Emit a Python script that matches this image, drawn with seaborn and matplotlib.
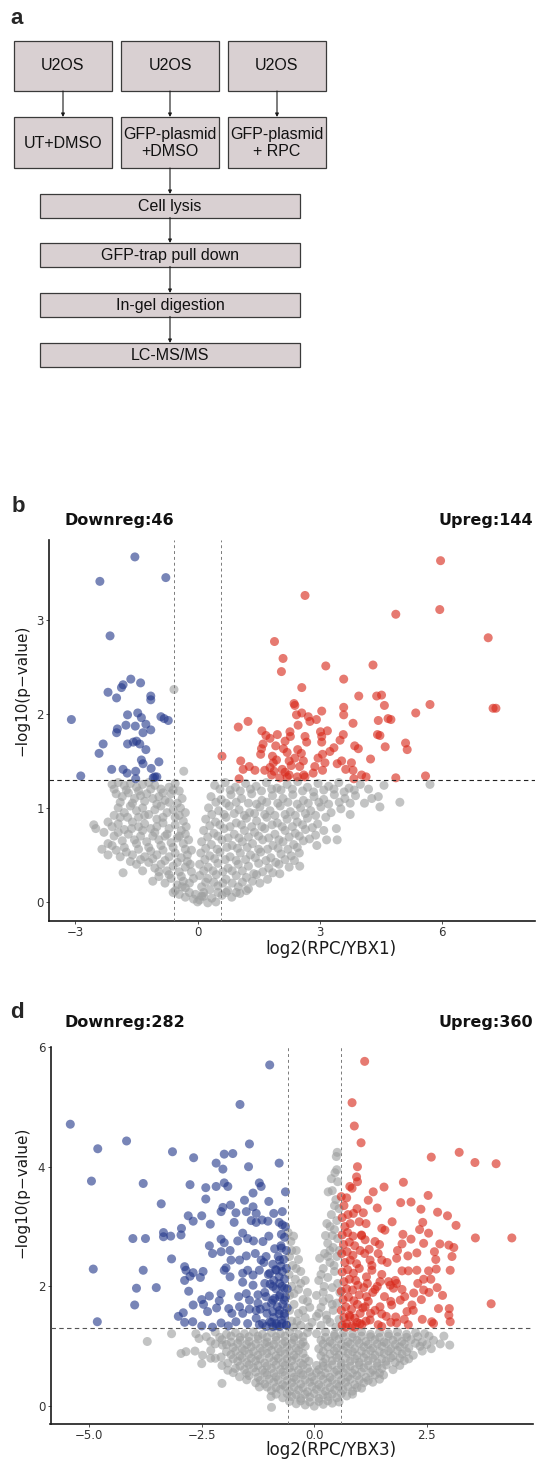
import numpy as np
import pandas as pd
import matplotlib
matplotlib.use("Agg")
import matplotlib.pyplot as plt
import seaborn as sns
from matplotlib.patches import Rectangle

# ---------------- data ----------------
flow_top_labels = ["U2OS", "U2OS", "U2OS"]
flow_mid_labels = ["UT+DMSO", "GFP-plasmid\n+DMSO", "GFP-plasmid\n+ RPC"]
flow_steps = ["Cell lysis", "GFP-trap pull down", "In-gel digestion", "LC-MS/MS"]

fc_cut = 0.585
p_cut = 1.301

b_title_down = "Downreg:46"
b_title_up = "Upreg:144"
d_title_down = "Downreg:282"
d_title_up = "Upreg:360"

b_xticks = [-3, 0, 3, 6]
b_yticks = [0, 1, 2, 3]
d_xticks = [-5.0, -2.5, 0.0, 2.5]
d_yticks = [0, 2, 4, 6]

b_down = [(-1.54,3.67),(-2.40,3.41),(-0.78,3.45),(-2.15,2.83),(-1.64,2.37),(-1.40,2.33),(-1.83,2.31),
          (-1.87,2.28),(-2.20,2.23),(-1.99,2.17),(-1.15,2.19),(-1.15,2.15),(-3.10,1.94),(-1.72,1.99),
          (-1.47,2.01),(-1.38,1.96),(-1.27,1.89),(-0.90,1.97),(-0.82,1.95),(-0.72,1.93),(-1.76,1.88),
          (-1.53,1.87),(-1.97,1.84),(-1.99,1.80),(-1.15,1.83),(-1.34,1.80),(-2.32,1.68),(-1.72,1.68),
          (-1.58,1.70),(-1.50,1.71),(-1.42,1.68),(-1.27,1.62),(-2.42,1.58),(-1.38,1.51),(-1.34,1.47),
          (-0.95,1.49),(-2.11,1.41),(-1.83,1.41),(-1.73,1.37),(-1.52,1.39),(-1.14,1.42),(-2.87,1.34),
          (-1.05,1.33),(-1.00,1.33),(-1.52,1.31),(-1.09,1.32)]

b_up = [(5.97,3.63),(2.64,3.26),(4.87,3.06),(5.95,3.11),(7.14,2.81),(1.89,2.77),(2.10,2.59),(2.06,2.45),
        (3.15,2.51),(4.31,2.52),(3.59,2.37),(2.56,2.28),(3.96,2.19),(4.40,2.19),(4.52,2.20),(4.59,2.09),
        (2.37,2.11),(2.39,2.09),(5.71,2.10),(7.26,2.06),(7.33,2.06),(5.36,2.01),(3.59,2.07),(3.59,1.99),
        (3.05,2.03),(2.56,2.01),(2.43,1.99),(2.72,1.97),(2.76,1.92),(2.92,1.94),(3.82,1.90),(4.44,1.93),
        (4.68,1.95),(4.75,1.94),(1.24,1.92),(1.00,1.86),(2.47,1.88),(1.58,1.82),(1.68,1.77),(1.78,1.74),
        (1.96,1.78),(2.27,1.81),(2.28,1.76),(2.15,1.71),(2.64,1.76),(2.68,1.70),(3.02,1.81),(3.19,1.82),
        (3.05,1.76),(3.05,1.70),(3.58,1.78),(3.50,1.72),(4.42,1.78),(4.48,1.77),(5.11,1.69),(5.15,1.62),
        (4.61,1.65),(3.86,1.66),(3.95,1.63),(3.35,1.64),(1.57,1.63),(1.55,1.57),(1.61,1.68),(1.92,1.66),
        (1.84,1.55),(1.94,1.51),(1.86,1.48),(2.20,1.59),(2.46,1.62),(2.39,1.53),(2.60,1.50),(2.55,1.58),
        (3.07,1.57),(3.13,1.48),(2.88,1.44),(3.07,1.40),(4.25,1.52),(3.78,1.48),(3.43,1.47),(3.54,1.50),
        (3.64,1.41),(3.82,1.40),(4.03,1.35),(4.14,1.33),(3.84,1.31),(4.87,1.32),(5.60,1.34),(1.06,1.50),
        (1.12,1.41),(1.27,1.44),(1.41,1.40),(1.02,1.31),(1.65,1.40),(1.78,1.43),(1.88,1.39),(2.08,1.41),
        (2.20,1.33),(2.25,1.35),(2.45,1.33),(2.61,1.35),(2.64,1.33),(2.84,1.37),(1.82,1.35),(2.02,1.32),
        (0.60,1.55),(2.25,1.50),(2.51,1.44),(2.96,1.53),(2.11,1.63),(3.25,1.60),(2.30,1.45),(2.15,1.38)]

b_ns = [(-0.58,2.26),(-0.34,1.39),
        (-2.10,1.25),(-1.95,1.27),(-1.80,1.24),(-1.65,1.26),(-1.50,1.22),(-1.35,1.25),(-1.20,1.27),
        (-1.05,1.24),(-0.90,1.20),(-0.70,1.22),(-0.55,1.26),(-0.45,1.18),(-2.00,1.15),(-1.85,1.12),
        (-1.70,1.16),(-1.55,1.10),(-1.40,1.13),(-1.25,1.15),(-1.10,1.10),(-0.95,1.12),(-0.80,1.08),
        (-0.65,1.15),(-0.50,1.05),(-0.38,1.10),
        (-1.95,1.00),(-1.80,0.95),(-1.65,1.02),(-1.50,0.97),(-1.35,1.00),(-1.20,0.93),(-1.05,0.98),
        (-0.90,1.02),(-0.75,0.95),(-0.60,0.98),(-0.45,0.92),(-0.30,0.95),(-1.90,0.90),(-1.45,0.90),
        (-1.00,0.88),
        (-2.55,0.82),(-2.50,0.78),(-2.20,0.85),(-2.10,0.80),(-1.95,0.83),(-1.80,0.77),(-1.60,0.85),
        (-1.45,0.80),(-1.30,0.83),(-1.15,0.78),(-1.00,0.80),(-0.85,0.84),(-0.70,0.78),(-0.55,0.82),
        (-0.40,0.76),(-0.28,0.80),
        (-2.20,0.62),(-2.05,0.70),(-1.85,0.65),(-1.70,0.72),(-1.55,0.66),(-1.40,0.70),(-1.25,0.64),
        (-1.10,0.70),(-0.95,0.66),(-0.80,0.70),(-0.65,0.63),(-0.50,0.68),(-0.35,0.62),(-0.22,0.66),
        (-2.35,0.56),(-2.20,0.50),(-2.00,0.55),(-1.90,0.48),(-1.75,0.53),(-1.60,0.50),(-1.45,0.56),
        (-1.30,0.48),(-1.15,0.54),(-1.00,0.50),(-0.85,0.55),(-0.70,0.48),(-0.55,0.52),(-0.40,0.47),
        (-0.25,0.50),(-0.15,0.55),
        (-1.83,0.31),(-1.50,0.40),(-1.35,0.33),(-1.20,0.42),(-1.05,0.36),(-0.90,0.40),(-0.75,0.33),
        (-0.60,0.38),(-0.45,0.32),(-0.30,0.37),(-0.18,0.40),
        (-1.10,0.22),(-0.95,0.27),(-0.80,0.20),(-0.65,0.25),(-0.50,0.18),(-0.35,0.22),(-0.20,0.20),
        (-0.10,0.25),(-0.30,0.15),
        (-0.60,0.10),(-0.45,0.08),(-0.30,0.05),(-0.20,0.10),(-0.10,0.03),(0.00,0.00),(0.05,0.02),
        (-0.05,0.08),(0.10,0.06),(0.15,0.10),
        (0.42,1.24),(0.68,1.27),(0.93,1.22),(1.18,1.26),(1.44,1.23),(1.69,1.27),(1.95,1.21),(2.20,1.25),
        (2.46,1.28),(2.70,1.22),(2.96,1.26),(3.22,1.23),(3.47,1.27),(3.72,1.21),(4.00,1.25),(4.58,1.24),
        (5.71,1.25),(1.05,1.18),(2.05,1.19),(2.85,1.17),
        (0.33,1.12),(0.58,1.09),(0.82,1.14),(1.08,1.10),(1.33,1.15),(1.58,1.08),(1.84,1.13),(2.10,1.10),
        (2.34,1.14),(2.60,1.08),(2.86,1.12),(3.10,1.09),(3.36,1.14),(3.62,1.10),(3.88,1.13),(4.28,1.10),
        (4.44,1.12),(4.97,1.06),(1.25,1.05),(2.45,1.04),
        (0.27,1.00),(0.52,0.97),(0.78,1.02),(1.02,0.98),(1.28,0.95),(1.53,1.01),(1.78,0.97),(2.03,1.02),
        (2.28,0.96),(2.53,1.00),(2.78,0.97),(3.03,1.01),(3.28,0.95),(3.52,0.99),(3.75,0.93),(4.48,1.01),
        (0.65,0.93),(1.90,0.92),
        (0.20,0.88),(0.44,0.85),(0.70,0.90),(0.95,0.84),(1.20,0.89),(1.45,0.86),(1.70,0.90),(1.96,0.84),
        (2.20,0.88),(2.45,0.85),(2.70,0.89),(2.95,0.83),(3.41,0.78),(1.58,0.80),(2.33,0.80),
        (0.15,0.76),(0.40,0.73),(0.65,0.78),(0.90,0.72),(1.15,0.76),(1.40,0.74),(1.65,0.78),(1.90,0.72),
        (2.15,0.76),(2.40,0.73),(2.65,0.77),(2.90,0.71),(1.02,0.68),(2.00,0.66),
        (0.10,0.64),(0.34,0.61),(0.60,0.66),(0.85,0.60),(1.10,0.64),(1.35,0.62),(1.60,0.66),(1.85,0.60),
        (2.10,0.64),(2.36,0.61),(2.60,0.65),(2.93,0.60),(3.17,0.66),(3.43,0.66),(0.48,0.56),(1.50,0.56),
        (0.08,0.52),(0.30,0.49),(0.55,0.53),(0.80,0.48),(1.05,0.52),(1.30,0.50),(1.55,0.53),(1.80,0.47),
        (2.05,0.51),(2.30,0.49),(2.50,0.52),(0.95,0.44),(1.92,0.42),
        (0.05,0.40),(0.26,0.37),(0.50,0.41),(0.75,0.36),(1.00,0.40),(1.25,0.38),(1.50,0.41),(1.75,0.36),
        (2.00,0.40),(2.25,0.37),(2.51,0.38),(0.62,0.32),(1.38,0.30),
        (0.05,0.28),(0.25,0.25),(0.46,0.29),(0.70,0.24),(0.95,0.28),(1.20,0.26),(1.45,0.29),(1.72,0.24),
        (2.02,0.30),(0.85,0.20),
        (0.10,0.16),(0.30,0.13),(0.50,0.17),(0.74,0.12),(1.00,0.16),(1.25,0.14),(1.53,0.20),
        (0.15,0.06),(0.35,0.04),(0.60,0.07),(0.84,0.05),(1.04,0.09),(0.25,-0.01),(0.45,0.00)]

b_ns_dense = [(-2.05,1.20),(-1.75,1.19),(-1.45,1.18),(-1.15,1.20),(-0.85,1.16),(-0.60,1.19),(-1.90,1.06),
              (-1.60,1.05),(-1.30,1.07),(-1.00,1.04),(-0.70,1.06),(-0.42,1.00),(-2.05,0.92),(-1.72,0.90),
              (-1.30,0.92),(-0.85,0.90),(-0.55,0.90),(-0.35,0.86),(-2.30,0.74),(-1.95,0.74),(-1.62,0.78),
              (-1.35,0.76),(-1.05,0.74),(-0.75,0.72),(-0.45,0.70),(-0.30,0.72),(-2.10,0.60),(-1.80,0.58),
              (-1.50,0.62),(-1.20,0.58),(-0.90,0.60),(-0.60,0.58),(-0.30,0.56),(-1.65,0.43),(-1.40,0.45),
              (-1.10,0.46),(-0.80,0.44),(-0.50,0.42),(-0.25,0.43),(-0.95,0.32),(-0.70,0.29),(-0.40,0.27),
              (-0.15,0.32),(-0.55,0.12),(-0.38,0.16),
              (0.55,1.20),(0.80,1.19),(1.30,1.20),(1.57,1.18),(1.82,1.20),(2.33,1.20),(2.58,1.18),(3.10,1.19),
              (3.35,1.20),(3.60,1.17),(3.85,1.19),(4.20,1.20),(0.45,1.06),(0.70,1.05),(0.95,1.06),(1.45,1.04),
              (1.70,1.06),(1.97,1.05),(2.22,1.06),(2.72,1.05),(2.98,1.06),(3.22,1.04),(3.48,1.06),(3.75,1.05),
              (4.10,1.05),(0.35,0.93),(0.90,0.94),(1.15,0.92),(1.40,0.94),(1.65,0.93),(2.15,0.93),(2.40,0.92),
              (2.65,0.94),(2.90,0.92),(3.15,0.90),(0.30,0.81),(0.55,0.82),(0.80,0.80),(1.08,0.82),(1.33,0.80),
              (1.83,0.82),(2.08,0.80),(2.58,0.82),(2.82,0.79),(3.10,0.76),(0.25,0.69),(0.50,0.70),(0.75,0.68),
              (1.25,0.69),(1.50,0.70),(1.75,0.68),(2.25,0.69),(2.50,0.70),(2.75,0.67),(0.20,0.57),(0.72,0.58),
              (0.98,0.57),(1.22,0.58),(1.72,0.56),(1.98,0.57),(2.22,0.56),(2.45,0.58),(0.18,0.45),(0.42,0.46),
              (0.68,0.45),(1.18,0.45),(1.42,0.47),(1.68,0.44),(2.15,0.45),(2.38,0.44),(0.15,0.33),(0.38,0.33),
              (0.85,0.33),(1.10,0.33),(1.60,0.32),(1.85,0.31),(0.20,0.21),(0.40,0.21),(0.62,0.20),(1.10,0.21),
              (1.35,0.22),(0.50,0.10),(0.70,0.10),(0.95,0.10),(1.20,0.12)]

d_down = [(-0.99,5.70),(-1.65,5.04),(-5.42,4.71),(-4.17,4.43),(-4.81,4.30),(-1.44,4.38),(-3.15,4.25),
          (-2.68,4.15),(-2.00,4.21),(-1.81,4.22),(-2.18,4.06),(-2.03,3.96),(-1.46,4.00),(-0.78,4.06),
          (-4.95,3.76),(-3.80,3.72),(-2.76,3.70),(-2.41,3.65),(-2.18,3.67),(-2.00,3.73),(-1.92,3.67),
          (-1.22,3.73),(-1.18,3.67),(-1.36,3.56),(-0.64,3.58),(-2.41,3.46),(-1.55,3.44),(-1.01,3.42),
          (-3.40,3.38),(-1.86,3.36),(-2.03,3.32),(-2.07,3.25),(-1.74,3.23),(-1.51,3.25),(-1.36,3.33),
          (-1.29,3.22),(-0.90,3.22),(-0.71,3.25),(-2.80,3.18),(-2.69,3.09),(-2.50,3.18),(-2.31,3.04),
          (-1.78,3.07),(-1.40,3.10),(-1.29,3.07),(-1.16,3.11),(-1.03,3.09),(-0.78,3.07),(-0.71,3.03),
          (-2.95,2.97),(-2.96,2.86),(-3.35,2.90),(-3.35,2.83),(-3.19,2.84),(-4.03,2.80),(-3.75,2.80),
          (-2.33,2.68),(-2.07,2.79),(-2.00,2.73),(-1.87,2.60),(-2.26,2.55),(-2.07,2.58),(-1.70,2.76),
          (-1.59,2.89),(-1.48,2.80),(-1.35,2.76),(-1.14,2.75),(-1.01,2.84),(-0.88,2.63),(-0.73,2.87),
          (-0.73,2.64),(-3.17,2.46),(-1.85,2.44),(-1.66,2.44),(-1.51,2.51),(-1.31,2.55),(-1.18,2.44),
          (-1.07,2.50),(-0.92,2.37),(-0.77,2.44),(-4.91,2.29),(-3.80,2.27),(-2.88,2.33),(-2.85,2.27),
          (-2.69,2.23),(-2.47,2.25),(-2.76,2.17),(-2.53,2.15),(-2.88,2.10),(-2.00,2.27),(-1.87,2.16),
          (-1.96,2.31),(-1.59,2.22),(-1.48,2.27),(-1.36,2.19),(-1.22,2.27),(-0.99,2.22),(-0.84,2.27),
          (-0.71,2.25),(-3.95,1.97),(-3.51,1.98),(-2.79,1.92),(-1.59,2.07),(-1.36,2.02),(-1.10,2.05),
          (-0.92,2.00),(-0.77,2.05),(-0.66,1.97),(-3.99,1.69),(-2.50,1.78),(-2.33,1.84),(-2.46,1.70),
          (-2.69,1.69),(-2.37,1.58),(-2.07,1.88),(-2.11,1.76),(-2.17,1.64),(-1.68,1.83),(-1.51,1.88),
          (-1.44,1.77),(-1.25,1.86),(-1.25,1.72),(-1.07,1.83),(-0.92,1.77),(-0.77,1.83),(-0.66,1.77),
          (-1.90,1.63),(-1.83,1.55),(-1.66,1.66),(-1.59,1.55),(-1.44,1.62),(-1.29,1.60),(-1.07,1.66),
          (-0.92,1.58),(-0.77,1.60),(-0.66,1.55),(-4.82,1.41),(-3.02,1.50),(-2.91,1.56),(-2.88,1.40),
          (-2.70,1.41),(-2.50,1.34),(-2.26,1.32),(-2.07,1.39),(-1.91,1.34),(-1.74,1.41),(-1.48,1.38),
          (-1.29,1.47),(-1.22,1.36),(-0.99,1.41),(-0.84,1.38),(-0.73,1.44),(-0.62,1.36),(-1.07,1.33),
          (-0.92,1.33),(-0.77,1.33),
          (-0.62,1.35),(-0.72,1.38),(-0.84,1.34),(-0.95,1.40),(-0.66,1.50),(-0.78,1.54),(-0.90,1.48),
          (-0.60,1.64),(-0.70,1.70),(-0.82,1.66),(-0.95,1.72),(-0.64,1.82),(-0.76,1.86),(-0.88,1.80),
          (-0.60,1.96),(-0.72,2.00),(-0.85,1.96),(-0.98,2.04),(-0.66,2.12),(-0.78,2.16),(-0.90,2.10),
          (-0.62,2.30),(-0.74,2.34),(-0.86,2.28),(-0.68,2.45),(-0.80,2.50),(-0.62,2.60),(-0.74,2.68),
          (-0.66,2.82),(-0.64,3.00),(-1.05,1.55),(-1.10,1.90),(-1.02,2.20),(-1.15,1.38),(-1.20,1.62),
          (-1.12,2.40)]

d_up = [(1.12,5.76),(0.84,5.07),(0.89,4.68),(1.04,4.40),(2.60,4.16),(3.22,4.24),(3.57,4.07),(4.04,4.05),
        (0.96,4.00),(0.94,3.83),(0.96,3.75),(1.98,3.74),(1.55,3.66),(0.79,3.67),(0.84,3.64),(1.31,3.58),
        (1.20,3.44),(2.53,3.52),(1.92,3.40),(2.15,3.41),(2.37,3.29),(2.74,3.24),(2.96,3.18),(1.40,3.31),
        (1.09,3.23),(1.73,3.08),(2.41,3.07),(3.15,3.02),(3.58,2.81),(4.39,2.81),(1.50,2.97),(1.57,2.94),
        (1.97,2.87),(2.15,2.79),(2.54,2.89),(2.34,2.95),(1.35,2.75),(1.95,2.71),(2.43,2.72),(2.79,2.71),
        (2.99,2.69),(3.10,2.65),(2.67,2.58),(2.28,2.56),(2.08,2.51),(1.83,2.47),(1.42,2.55),(1.50,2.44),
        (1.24,2.44),(3.06,2.50),(2.71,2.29),(2.54,2.26),(2.28,2.27),(2.09,2.26),(1.95,2.26),(3.02,2.27),
        (2.43,2.12),(2.59,2.12),(2.73,1.98),(2.43,1.94),(2.21,1.89),(2.01,1.83),(2.38,1.78),(2.17,1.69),
        (1.83,2.05),(1.65,2.08),(1.69,2.02),(1.76,1.97),(1.46,2.08),(1.35,1.95),(1.56,1.83),(1.72,1.69),
        (1.91,1.77),(2.06,1.58),(1.81,1.49),(1.83,1.39),(2.09,1.36),(2.61,1.41),(2.65,1.38),(2.76,1.63),
        (3.00,1.63),(2.99,1.52),(3.02,1.41),(3.93,1.71),(1.46,1.66),(1.50,1.54),(1.24,1.44),(1.42,1.36),
        (1.13,2.78),(1.05,2.86),(0.87,3.22),(1.00,3.08),(1.16,2.16),(1.28,2.27),(1.16,1.83),(1.13,1.66),
        (1.02,1.38),(0.79,1.49),
        (0.62,1.35),(0.72,1.38),(0.84,1.34),(0.95,1.40),(1.06,1.36),(0.66,1.48),(0.78,1.52),(0.90,1.47),
        (1.02,1.55),(0.60,1.60),(0.70,1.66),(0.83,1.62),(0.96,1.70),(1.08,1.64),(0.64,1.78),(0.76,1.82),
        (0.88,1.76),(1.00,1.86),(0.60,1.92),(0.72,1.96),(0.85,1.94),(0.97,2.02),(1.10,1.98),(0.66,2.08),
        (0.78,2.12),(0.92,2.10),(0.62,2.24),(0.74,2.28),(0.87,2.22),(1.00,2.30),(0.68,2.40),(0.80,2.44),
        (0.94,2.38),(0.61,2.55),(0.73,2.58),(0.86,2.52),(1.02,2.60),(0.65,2.70),(0.78,2.74),(0.90,2.68),
        (0.62,2.86),(0.74,2.90),(0.86,2.84),(0.68,3.00),(0.80,3.05),(0.62,3.15),(0.75,3.20),(0.66,3.35),
        (0.60,3.50),(0.72,3.48),(1.15,1.42),(1.25,1.55),(1.20,1.75),(1.30,1.90),(1.18,2.05),(1.28,2.35),
        (1.12,2.55),(1.22,2.62),(1.35,1.60),(1.40,2.00),(1.50,2.20),(1.60,1.50),(1.70,1.75),(1.62,2.40),
        (1.80,2.10),(1.95,1.95),(2.00,1.45),(2.20,1.60),(2.30,2.05),(1.85,2.60),(1.05,2.85),(1.15,3.05),
        (0.95,3.30),(1.45,2.70),(1.70,1.40),(0.70,1.32),(0.90,1.32),(1.50,1.33),(2.40,1.45),(2.55,1.90),
        (2.85,1.85),(2.70,2.45)]

d_ns = [(0.51,4.24),(0.49,4.17),(0.46,3.90),(0.52,3.75),(0.40,3.60),(0.31,3.58),(0.48,3.45),(0.38,3.20),
        (0.50,3.10),(0.35,3.00),(0.45,2.95),(0.25,2.85),(0.52,2.80),(0.30,2.72),(0.42,2.65),(0.23,2.55),
        (0.50,2.50),(0.12,2.47),(0.35,2.40),(0.20,2.30),(0.45,2.25),(0.30,2.15),(0.10,2.10),(0.52,2.05),
        (0.40,1.98),(0.20,1.90),(0.05,1.85),(0.33,1.80),(0.50,1.72),(0.15,1.65),(0.42,1.60),(0.27,1.52),
        (0.05,1.50),(0.55,1.45),(0.35,1.40),(0.15,1.35),(0.48,1.32),(0.55,3.30),(0.56,2.60),(0.57,1.90),
        (-0.46,2.84),(-0.52,2.75),(-0.40,2.60),(-0.55,2.50),(-0.35,2.45),(-0.48,2.35),(-0.30,2.25),
        (-0.56,2.20),(-0.42,2.12),(-0.20,2.10),(-0.50,2.00),(-0.35,1.95),(-0.15,1.90),(-0.55,1.85),
        (-0.25,1.78),(-0.45,1.70),(-0.10,1.65),(-0.55,1.60),(-0.35,1.55),(-0.20,1.48),(-0.50,1.42),
        (-0.05,1.40),(-0.30,1.35),(-0.45,1.32),(-0.12,1.32),
        (-3.17,1.21),(-2.63,1.21),(-2.20,1.24),(-1.95,1.20),(-1.75,1.23),(-1.55,1.21),(-1.35,1.24),
        (-1.15,1.20),(-0.95,1.23),(-0.75,1.21),(-0.55,1.24),(-0.35,1.20),(-0.15,1.23),(0.05,1.21),
        (0.25,1.24),(0.45,1.20),(0.65,1.23),(0.85,1.21),(1.05,1.24),(1.25,1.20),(1.45,1.23),(1.65,1.21),
        (1.85,1.24),(2.05,1.20),(2.25,1.23),(2.45,1.21),(2.88,1.17),
        (-3.71,1.08),(-2.56,1.13),(-2.30,1.08),(-2.05,1.11),(-1.85,1.07),(-1.65,1.10),(-1.45,1.08),
        (-1.25,1.12),(-1.05,1.07),(-0.85,1.10),(-0.65,1.08),(-0.45,1.11),(-0.25,1.07),(0.15,1.10),
        (0.35,1.08),(0.55,1.12),(0.75,1.07),(0.95,1.10),(1.15,1.08),(1.35,1.11),(1.55,1.07),(1.75,1.10),
        (1.95,1.08),(2.15,1.11),(2.40,1.07),(2.65,1.10),(3.01,1.02),
        (-2.04,1.02),(-1.80,0.98),(-1.60,0.96),(-1.40,0.99),(-1.20,0.97),(-1.00,1.00),(-0.80,0.96),
        (-0.60,0.99),(-0.40,0.97),(-0.20,1.00),(0.10,0.96),(0.30,0.99),(0.50,0.97),(0.70,1.00),
        (0.90,0.96),(1.10,0.99),(1.30,0.97),(1.50,1.00),(1.70,0.96),(1.90,0.99),(2.10,0.97),(2.35,1.00),
        (2.60,0.96),
        (-2.96,0.88),(-2.85,0.91),(-2.48,0.85),(-2.07,0.82),(-1.85,0.86),(-1.65,0.84),(-1.45,0.87),
        (-1.25,0.85),(-1.05,0.88),(-0.85,0.84),(-0.65,0.87),(-0.45,0.85),(-0.25,0.88),(0.15,0.84),
        (0.35,0.87),(0.55,0.85),(0.75,0.88),(0.95,0.84),(1.15,0.87),(1.35,0.85),(1.55,0.88),(1.75,0.84),
        (1.95,0.87),(2.20,0.85),
        (-2.50,0.71),(-2.30,0.80),(-1.92,0.72),(-1.70,0.75),(-1.50,0.73),(-1.30,0.76),(-1.10,0.72),
        (-0.90,0.75),(-0.70,0.73),(-0.50,0.76),(-0.30,0.72),(-0.12,0.75),(0.20,0.73),(0.40,0.76),
        (0.60,0.72),(0.80,0.75),(1.00,0.73),(1.20,0.76),(1.40,0.72),(1.60,0.75),(1.80,0.73),(2.00,0.76),
        (-1.92,0.60),(-1.75,0.63),(-1.55,0.61),(-1.35,0.64),(-1.15,0.60),(-0.95,0.63),(-0.75,0.61),
        (-0.55,0.64),(-0.35,0.60),(-0.15,0.63),(0.10,0.61),(0.30,0.64),(0.50,0.60),(0.70,0.63),
        (0.90,0.61),(1.10,0.64),(1.30,0.60),(1.50,0.63),(1.75,0.61),
        (-1.66,0.49),(-1.45,0.51),(-1.25,0.48),(-1.05,0.52),(-0.85,0.49),(-0.65,0.51),(-0.45,0.48),
        (-0.25,0.52),(-0.05,0.49),(0.15,0.51),(0.35,0.48),(0.55,0.52),(0.75,0.49),(0.95,0.51),
        (1.15,0.48),(1.35,0.52),(1.54,0.52),
        (-2.05,0.38),(-1.30,0.39),(-1.10,0.37),(-0.90,0.40),(-0.70,0.36),(-0.50,0.39),(-0.30,0.37),
        (-0.10,0.40),(0.10,0.36),(0.30,0.39),(0.50,0.37),(0.70,0.40),(0.90,0.36),(1.10,0.39),(1.30,0.40),
        (-1.22,0.32),(-0.95,0.26),(-0.75,0.28),(-0.55,0.25),(-0.35,0.27),(-0.15,0.24),(0.05,0.28),
        (0.25,0.25),(0.45,0.27),(0.64,0.27),(0.85,0.25),(1.05,0.30),
        (-0.96,0.16),(-0.70,0.14),(-0.50,0.16),(-0.30,0.13),(-0.10,0.15),(0.10,0.13),(0.30,0.16),
        (0.50,0.14),(0.72,0.17),
        (-0.40,0.04),(-0.20,0.02),(0.00,0.00),(0.20,0.03),(0.40,0.05),(-0.95,-0.02)]

d_ns_dense = [(-2.40,1.16),(-2.10,1.15),(-1.85,1.17),(-1.65,1.15),(-1.45,1.16),(-1.25,1.17),(-1.05,1.15),
              (-0.85,1.16),(-0.65,1.17),(-0.45,1.15),(-0.25,1.16),(0.25,1.15),(0.45,1.17),(0.65,1.16),
              (0.85,1.15),(1.05,1.17),(1.25,1.16),(1.45,1.15),(1.65,1.17),(1.85,1.16),(2.05,1.15),(2.30,1.16),
              (2.55,1.17),
              (-2.20,1.04),(-1.95,1.03),(-1.70,1.05),(-1.50,1.03),(-1.30,1.04),(-1.10,1.05),(-0.90,1.03),
              (-0.70,1.04),(-0.50,1.05),(-0.30,1.03),(0.20,1.04),(0.40,1.05),(0.60,1.03),(0.80,1.04),
              (1.00,1.05),(1.20,1.03),(1.40,1.04),(1.60,1.05),(1.80,1.03),(2.00,1.04),(2.25,1.05),(2.50,1.03),
              (2.80,1.04),
              (-2.65,0.92),(-2.30,0.93),(-1.95,0.91),(-1.75,0.92),(-1.55,0.93),(-1.35,0.91),(-1.15,0.92),
              (-0.95,0.93),(-0.75,0.91),(-0.55,0.92),(-0.35,0.93),(0.20,0.91),(0.45,0.92),(0.65,0.93),
              (0.85,0.91),(1.05,0.92),(1.25,0.93),(1.45,0.91),(1.65,0.92),(1.85,0.93),(2.05,0.91),(2.40,0.92),
              (-2.20,0.80),(-1.80,0.79),(-1.60,0.81),(-1.40,0.80),(-1.20,0.79),(-1.00,0.81),(-0.80,0.80),
              (-0.60,0.79),(-0.40,0.81),(-0.20,0.80),(0.25,0.79),(0.50,0.81),(0.70,0.80),(0.90,0.79),
              (1.10,0.81),(1.30,0.80),(1.50,0.79),(1.70,0.81),(1.90,0.80),(2.10,0.79),
              (-2.05,0.68),(-1.65,0.67),(-1.45,0.69),(-1.25,0.68),(-1.05,0.67),(-0.85,0.69),(-0.65,0.68),
              (-0.45,0.67),(-0.25,0.69),(0.05,0.68),(0.20,0.67),(0.40,0.69),(0.60,0.68),(0.80,0.67),
              (1.00,0.69),(1.20,0.68),(1.40,0.67),(1.60,0.69),(1.90,0.68),
              (-1.80,0.56),(-1.50,0.55),(-1.30,0.57),(-1.10,0.56),(-0.90,0.55),(-0.70,0.57),(-0.50,0.56),
              (-0.30,0.55),(-0.10,0.57),(0.05,0.56),(0.25,0.55),(0.45,0.57),(0.65,0.56),(0.85,0.55),
              (1.05,0.57),(1.25,0.56),(1.45,0.55),
              (-1.50,0.44),(-1.20,0.43),(-1.00,0.45),(-0.80,0.44),(-0.60,0.43),(-0.40,0.45),(-0.20,0.44),
              (0.00,0.43),(0.20,0.45),(0.40,0.44),(0.60,0.43),(0.80,0.45),(1.00,0.44),(1.20,0.43),(1.45,0.45),
              (-1.05,0.32),(-0.85,0.31),(-0.65,0.33),(-0.45,0.32),(-0.25,0.31),(-0.05,0.33),(0.15,0.32),
              (0.35,0.31),(0.55,0.33),(0.75,0.32),(0.95,0.31),
              (-0.85,0.20),(-0.60,0.21),(-0.40,0.19),(-0.20,0.20),(0.00,0.21),(0.20,0.19),(0.40,0.20),
              (0.60,0.21),(0.85,0.20),
              (-0.55,0.08),(-0.30,0.09),(-0.10,0.07),(0.10,0.08),(0.30,0.09),(0.55,0.07),
              (0.28,1.45),(0.40,1.70),(0.22,2.00),(0.44,2.35),(0.35,2.60),(0.40,2.85),(0.28,3.05),(0.45,3.35),
              (0.38,3.80),(0.50,3.95),(0.10,1.55),(0.20,1.75),(0.30,2.50),(0.15,2.20),(-0.38,1.42),
              (-0.25,1.60),(-0.45,1.88),(-0.30,2.05),(-0.40,2.30),(-0.50,2.60),(-0.15,1.75),(-0.58,2.90)]

# ---------------- helpers ----------------
def make_df(ns, down, up):
    rows = [(x, y, "NS") for x, y in ns] + [(x, y, "Down") for x, y in down] + [(x, y, "Up") for x, y in up]
    return pd.DataFrame(rows, columns=["log2fc", "nlogp", "group"])

palette = {"NS": "#9d9f9f", "Down": "#263a8c", "Up": "#d8281a"}

sns.set_theme(style="white")
plt.rcParams['font.family'] = ['DejaVu Sans']

W, H = 536, 1467
fig = plt.figure(figsize=(W / 100, H / 100), dpi=100)

# ---------------- panel a: flowchart ----------------
ax_a = fig.add_axes([0, 1 - 400 / H, 1, 400 / H])
ax_a.set_xlim(0, W)
ax_a.set_ylim(400, 0)
ax_a.axis("off")

box_fc = "#d9d0d2"
box_ec = "#3a3a3a"
col_x = [14, 121, 228]
bw = 98
flow_font = dict(family=["Liberation Sans", "DejaVu Sans"], fontsize=11.5, color="#111111")


def arrow(ax, x, y0, y1):
    ax.annotate("", xy=(x, y1), xytext=(x, y0),
                arrowprops=dict(arrowstyle="-|>", color="#1a1a1a", lw=0.8,
                                mutation_scale=5, shrinkA=0, shrinkB=0))


for i, x0 in enumerate(col_x):
    ax_a.add_patch(Rectangle((x0, 41), bw, 50, facecolor=box_fc, edgecolor=box_ec, lw=0.9))
    ax_a.text(x0 + bw / 2, 66, flow_top_labels[i], ha="center", va="center", **flow_font)
    ax_a.add_patch(Rectangle((x0, 117), bw, 51, facecolor=box_fc, edgecolor=box_ec, lw=0.9))
    ax_a.text(x0 + bw / 2, 143, flow_mid_labels[i], ha="center", va="center",
              linespacing=1.25, **flow_font)
    arrow(ax_a, x0 + bw / 2, 91, 117)

step_y = [194, 243, 293, 343]
prev_bottom = 168
for label, y0 in zip(flow_steps, step_y):
    arrow(ax_a, 170, prev_bottom, y0)
    ax_a.add_patch(Rectangle((40, y0), 260, 23.5, facecolor=box_fc, edgecolor=box_ec, lw=0.9))
    ax_a.text(170, y0 + 12, label, ha="center", va="center", **flow_font)
    prev_bottom = y0 + 23.5

letter_font = dict(family=["Liberation Sans", "DejaVu Sans"], fontsize=16, fontweight="bold")
fig.text(10 / W, 1 - 24 / H, "a", ha="left", va="baseline", **letter_font)
fig.text(12 / W, 1 - 511.5 / H, "b", ha="left", va="baseline", **letter_font)
fig.text(10 / W, 1 - 1018 / H, "d", ha="left", va="baseline", **letter_font)


# ---------------- volcano panels ----------------
def volcano(rect, df, xlim, ylim, xticks, xticklabels, yticks, xlabel, xl_coords, yl_coords, hcolor):
    ax = fig.add_axes(rect)
    sns.scatterplot(data=df, x="log2fc", y="nlogp", hue="group", palette=palette,
                    s=42, alpha=0.62, linewidth=0, edgecolor="none", legend=False, ax=ax, zorder=2)
    ax.axhline(p_cut, color=hcolor, lw=0.8, ls=(0, (4, 3)), zorder=3)
    ax.axvline(-fc_cut, color="#7a7a7a", lw=0.7, ls=(0, (3, 3)), zorder=3)
    ax.axvline(fc_cut, color="#7a7a7a", lw=0.7, ls=(0, (3, 3)), zorder=3)
    ax.set_xlim(*xlim)
    ax.set_ylim(*ylim)
    ax.set_xticks(xticks)
    ax.set_xticklabels(xticklabels)
    ax.set_yticks(yticks)
    ax.set_yticklabels([str(t) for t in yticks])
    for s in ["top", "right"]:
        ax.spines[s].set_visible(False)
    for s in ["left", "bottom"]:
        ax.spines[s].set_color("#1a1a1a")
        ax.spines[s].set_linewidth(1.2)
    ax.tick_params(axis="both", bottom=True, left=True, length=2.2, width=0.6, color="#333333",
                   labelsize=8.5, labelcolor="#333333", pad=1.5)
    ax.set_xlabel(xlabel, fontsize=12, color="#1a1a1a")
    ax.set_ylabel("\u2212log10(p\u2212value)", fontsize=11, color="#1a1a1a")
    ax.xaxis.set_label_coords(*xl_coords)
    ax.xaxis.label.set_verticalalignment("center")
    ax.yaxis.set_label_coords(*yl_coords)
    ax.yaxis.label.set_verticalalignment("center")
    return ax


df_b = make_df(b_ns + b_ns_dense, b_down, b_up)
df_d = make_df(d_ns + d_ns_dense, d_down, d_up)

ax_b = volcano([49 / W, 1 - 920.7 / H, (535 - 49) / W, (920.7 - 540) / H], df_b,
               (-3.65, 8.29), (-0.20, 3.85), b_xticks, ["\u22123", "0", "3", "6"], b_yticks,
               "log2(RPC/YBX1)", (0.58, -0.074), (-0.056, 0.606), "#222222")

ax_d = volcano([50.5 / W, 1 - 1423.5 / H, (533 - 50.5) / W, (1423.5 - 1047) / H], df_d,
               (-5.86, 4.86), (-0.29, 6.0), d_xticks, ["\u22125.0", "\u22122.5", "0.0", "2.5"], d_yticks,
               "log2(RPC/YBX3)", (0.581, -0.070), (-0.059, 0.615), "#555555")

ann_font = dict(fontsize=11.5, fontweight="bold", color="#111111")
fig.text(65 / W, 1 - 524.5 / H, b_title_down, ha="left", va="baseline", **ann_font)
fig.text(533 / W, 1 - 524.5 / H, b_title_up, ha="right", va="baseline", **ann_font)
fig.text(65 / W, 1 - 1027.5 / H, d_title_down, ha="left", va="baseline", **ann_font)
fig.text(533 / W, 1 - 1027.5 / H, d_title_up, ha="right", va="baseline", **ann_font)

fig.savefig("out.png", dpi=100, facecolor="white")
